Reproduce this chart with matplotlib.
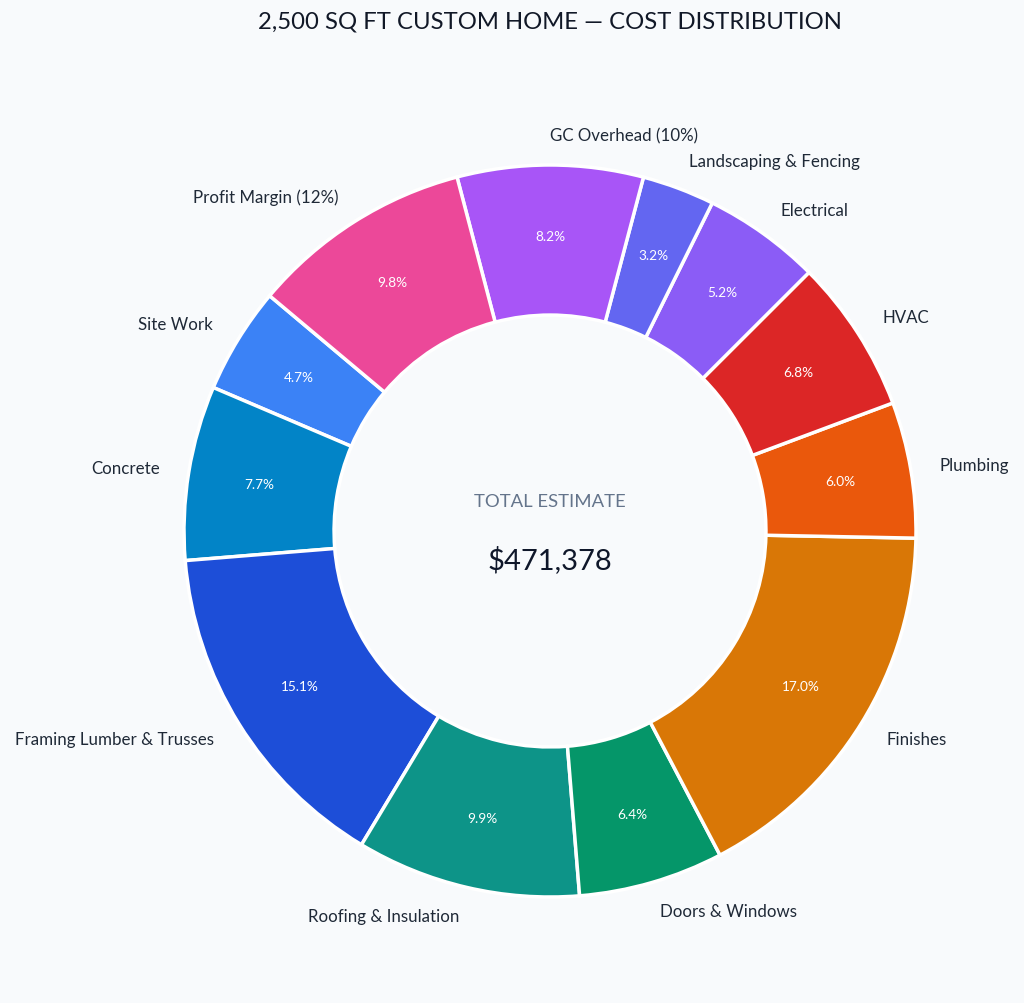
import matplotlib
matplotlib.use("Agg")
import matplotlib.pyplot as plt

plt.rcParams['font.family'] = ['Lato', 'DejaVu Sans']

categories = ['Site Work', 'Concrete', 'Framing Lumber & Trusses', 'Roofing & Insulation',
              'Doors & Windows', 'Finishes', 'Plumbing', 'HVAC', 'Electrical',
              'Landscaping & Fencing', 'GC Overhead (10%)', 'Profit Margin (12%)']
shares = [4.7, 7.7, 15.1, 9.9, 6.4, 17.0, 6.0, 6.8, 5.2, 3.2, 8.2, 9.8]
colors = ['#3b82f6', '#0284c7', '#1d4ed8', '#0d9488', '#059669', '#d97706',
          '#ea580c', '#dc2626', '#8b5cf6', '#6366f1', '#a855f7', '#ec4899']
total = '$471,378'

bg = '#f8fafc'
fig = plt.figure(figsize=(10.24, 10.04), dpi=100, facecolor=bg)
ax = fig.add_axes([0, 0, 1, 1])
ax.set_facecolor(bg)

# pie sits at origin; axes limits put it at pixel (550, 532) from top-left
R = 366
wedges, texts, autotexts = ax.pie(
    shares, labels=categories, colors=colors, startangle=140,
    radius=R, autopct='%1.1f%%',
    pctdistance=0.805, labeldistance=1.08,
    wedgeprops=dict(width=0.41 * R, edgecolor='white', linewidth=2.5),
    textprops=dict(fontsize=12.2, color='#1f2937'))
for t in autotexts:
    t.set_color('white')
    t.set_fontsize(9.8)

ax.text(0, 30, 'TOTAL ESTIMATE', ha='center', va='center', fontsize=13.3, color='#64748b')
ax.text(0, -28, total, ha='center', va='center', fontsize=21, color='#0f172a')
ax.text(0, 510, '2,500 SQ FT CUSTOM HOME \u2014 COST DISTRIBUTION',
        ha='center', va='center', fontsize=17.2, color='#111827')

ax.set_xlim(-550, 474)
ax.set_ylim(-472, 532)
ax.set_aspect('equal')
ax.axis('off')

fig.savefig('out.png', dpi=100, facecolor=bg)
